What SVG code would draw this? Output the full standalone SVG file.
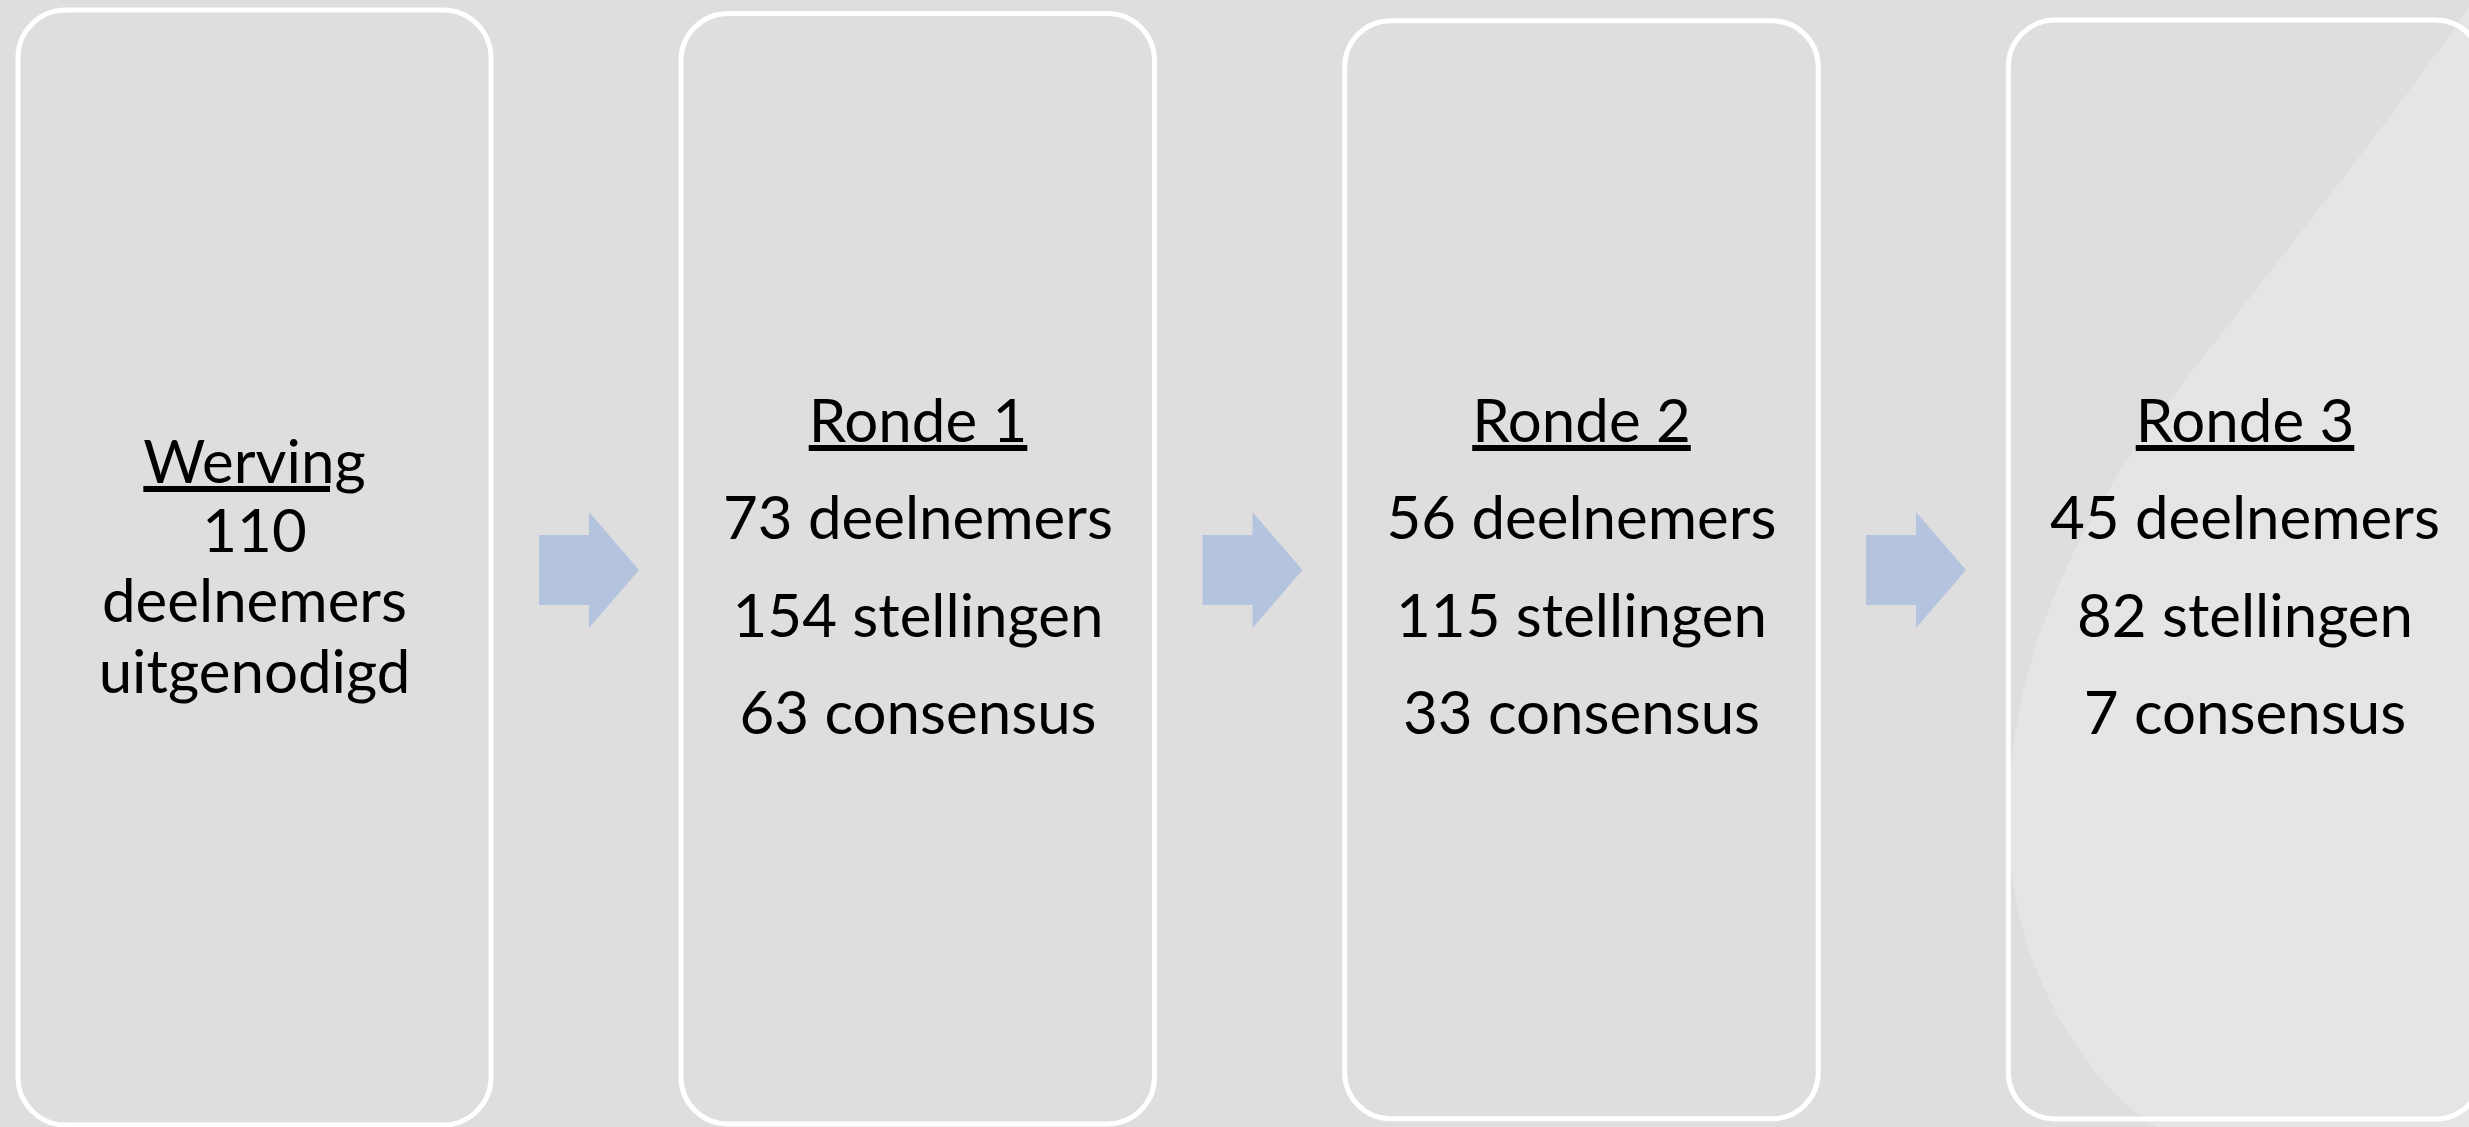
<svg xmlns="http://www.w3.org/2000/svg" xmlns:xlink="http://www.w3.org/1999/xlink" width="2469" height="1127" viewBox="0 0 2469 1127">
<style>
.box{fill:none;stroke:#ffffff;stroke-width:5}
.t{font-family:Lato,"Open Sans","Liberation Sans",sans-serif;font-size:60px;text-anchor:middle;fill:#000000}
.u{text-decoration:underline}
.arrow{fill:#B4C3DE}
</style>
<defs>
<polygon id="arr" points="539,535 589,535 589,512 639,570 589,628 589,605 539,605"/>
</defs>
<rect x="0" y="0" width="2469" height="1127" fill="#DEDEDE"/>
<path d="M2475,-2 C2400,110 2270,270 2170,400 C2080,520 2010,650 2008,820 C2008,960 2080,1080 2160,1130 L2475,1130 Z" fill="#E5E5E5"/>
<g id="connectors">
<use xlink:href="#arr" class="arrow"/>
<use xlink:href="#arr" class="arrow" transform="translate(663.5,0)"/>
<use xlink:href="#arr" class="arrow" transform="translate(1327,0)"/>
</g>
<g id="werving">
<rect class="box" x="18" y="10" width="473" height="1115" rx="48"/>
<text class="t u" x="254.5" y="483">Werving</text>
<text class="t" x="254.5" y="552">110</text>
<text class="t" x="254.5" y="622">deelnemers</text>
<text class="t" x="254.5" y="693">uitgenodigd</text>
</g>
<g id="ronde1">
<rect class="box" x="681" y="13.5" width="473.5" height="1110.5" rx="47"/>
<text class="t u" x="918" y="442">Ronde 1</text>
<text class="t" x="918" y="539">73 deelnemers</text>
<text class="t" x="918" y="637">154 stellingen</text>
<text class="t" x="918" y="734">63 consensus</text>
</g>
<g id="ronde2">
<rect class="box" x="1344.7" y="20.8" width="473.5" height="1098" rx="46"/>
<text class="t u" x="1581.5" y="442">Ronde 2</text>
<text class="t" x="1581.5" y="539">56 deelnemers</text>
<text class="t" x="1581.5" y="637">115 stellingen</text>
<text class="t" x="1581.5" y="734">33 consensus</text>
</g>
<g id="ronde3">
<rect class="box" x="2008.3" y="20" width="474" height="1099" rx="47"/>
<text class="t u" x="2245" y="442">Ronde 3</text>
<text class="t" x="2245" y="539">45 deelnemers</text>
<text class="t" x="2245" y="637">82 stellingen</text>
<text class="t" x="2245" y="734">7 consensus</text>
</g>
</svg>
